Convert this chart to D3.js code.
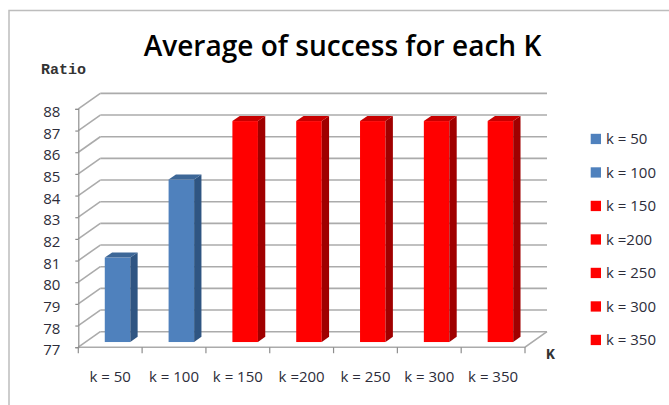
<!DOCTYPE html>
<html>
<head>
<meta charset="utf-8">
<script src="https://cdn.jsdelivr.net/npm/d3@7"></script>
<style>
  html, body { margin: 0; padding: 0; background: #fff; }
  svg { display: block; }
</style>
</head>
<body>
<svg id="chart" width="669" height="405"></svg>
<script>
// Chart data
const categories = ["k = 50", "k = 100", "k = 150", "k =200", "k = 250", "k = 300", "k = 350"];
const values = [80.9, 84.5, 87.2, 87.2, 87.2, 87.2, 87.2];
const yTicks = [77, 78, 79, 80, 81, 82, 83, 84, 85, 86, 87, 88];
const titleText = "Average of success for each K";
const yAxisTitle = "Ratio";
const xAxisTitle = "K";

// Styling
const BLUE = { front: "#4f81bd", side: "#2f5582", top: "#3d6797" };
const RED = { front: "#ff0000", side: "#a00000", top: "#c80000" };
const palette = [BLUE, BLUE, RED, RED, RED, RED, RED];
const textFont = "'Open Sans', 'Noto Sans', sans-serif";
const monoFont = "'Liberation Mono', 'DejaVu Sans Mono', monospace";
const gridColor = "#ababab";
const axisColor = "#8e8e8e";

const svg = d3.select("#chart");

// Outer chart frame
svg.append("rect")
  .attr("x", 9).attr("y", 10.5)
  .attr("width", 700).attr("height", 420)
  .attr("fill", "#fff")
  .attr("stroke", "#bdbdbd")
  .attr("stroke-width", 1.5);

// Oblique depth of the 3-D plot box
const depthX = 22, depthY = 15.5;

const y = d3.scaleLinear().domain([77, 88]).range([347.2, 108.9]);
const x = d3.scaleBand().domain(categories).range([78.3, 525]);
const [xL, xR] = x.range();

// Back wall gridlines and side-wall diagonals
const grid = svg.append("g")
  .attr("stroke", gridColor)
  .attr("stroke-width", 1.6)
  .attr("fill", "none");

yTicks.forEach(t => {
  grid.append("line")
    .attr("x1", xL + depthX).attr("y1", y(t) - depthY)
    .attr("x2", xR + depthX).attr("y2", y(t) - depthY);
  grid.append("line")
    .attr("x1", xL).attr("y1", y(t))
    .attr("x2", xL + depthX).attr("y2", y(t) - depthY);
});

// Floor outline (front edge + right edge)
grid.append("path")
  .attr("d", d3.line()([
    [xL, y(77)], [xR, y(77)], [xR + depthX, y(77) - depthY]
  ]));

// Category boundary ticks under the floor
const bounds = categories.map(c => x(c)).concat([xR]);
svg.append("g")
  .attr("stroke", axisColor)
  .attr("stroke-width", 1.2)
  .selectAll("line")
  .data(bounds)
  .join("line")
  .attr("x1", d => d).attr("x2", d => d)
  .attr("y1", y(77)).attr("y2", y(77) + 6);

// 3-D columns
const bw = x.bandwidth();
const fx = depthX / 3, fy = depthY / 3;
const bars = svg.append("g");
categories.forEach((c, i) => {
  const col = palette[i];
  const x0 = x(c) + bw * 0.3 + fx;
  const x1 = x0 + bw * 0.4;
  const yb = y(77) - fy;
  const yt = y(values[i]) - fy;
  const g = bars.append("g");
  g.append("rect")
    .attr("x", x0).attr("y", yt)
    .attr("width", x1 - x0).attr("height", yb - yt)
    .attr("fill", col.front);
  g.append("path")
    .attr("d", d3.line()([[x1, yt], [x1, yb], [x1 + fx, yb - fy], [x1 + fx, yt - fy]]) + "Z")
    .attr("fill", col.side);
  g.append("path")
    .attr("d", d3.line()([[x0, yt], [x1, yt], [x1 + fx, yt - fy], [x0 + fx, yt - fy]]) + "Z")
    .attr("fill", col.top);
});

// Value axis
const yAxis = svg.append("g")
  .attr("transform", `translate(${xL},0)`)
  .call(d3.axisLeft(y).tickValues(yTicks).tickSize(3).tickPadding(15).tickFormat(d3.format("d")));
yAxis.select(".domain").attr("stroke", axisColor).attr("stroke-width", 1.2);
yAxis.selectAll(".tick line").attr("stroke", axisColor).attr("stroke-width", 1.2);
yAxis.selectAll(".tick text")
  .attr("font-family", textFont)
  .attr("font-size", 15)
  .attr("fill", "#2d2d3a")
  .attr("dy", "0.5em");

// Category axis labels
const xAxis = svg.append("g")
  .attr("transform", `translate(0,${y(77)})`)
  .call(d3.axisBottom(x).tickSize(0).tickPadding(24));
xAxis.select(".domain").remove();
xAxis.selectAll(".tick text")
  .attr("font-family", textFont)
  .attr("font-size", 15)
  .attr("fill", "#2d2d3a");

// Title, fitted to its box
const title = svg.append("text")
  .attr("x", 342.5).attr("y", 55.7)
  .attr("text-anchor", "middle")
  .attr("font-family", textFont)
  .attr("font-weight", 600)
  .attr("font-size", 28)
  .attr("fill", "#000")
  .text(titleText);
const tw = title.node().getComputedTextLength();
title.attr("font-size", 28 * 398 / tw);

// Axis titles
svg.append("text")
  .attr("x", 41).attr("y", 74)
  .attr("font-family", monoFont)
  .attr("font-weight", "bold")
  .attr("font-size", 15)
  .attr("fill", "#333")
  .text(yAxisTitle);

svg.append("text")
  .attr("x", 546).attr("y", 359)
  .attr("font-family", monoFont)
  .attr("font-weight", "bold")
  .attr("font-size", 15)
  .attr("fill", "#333")
  .text(xAxisTitle);

// Legend
const legend = svg.append("g")
  .selectAll("g")
  .data(categories)
  .join("g")
  .attr("transform", (d, i) => `translate(590.7,${139 + i * 33.5})`);
legend.append("rect")
  .attr("x", 0).attr("y", -5.2)
  .attr("width", 10.3).attr("height", 10.3)
  .attr("fill", (d, i) => palette[i].front);
legend.append("text")
  .attr("x", 15.3).attr("y", 0)
  .attr("dy", "0.36em")
  .attr("font-family", textFont)
  .attr("font-size", 15)
  .attr("fill", "#2d2d3a")
  .text(d => d);
</script>
</body>
</html>
